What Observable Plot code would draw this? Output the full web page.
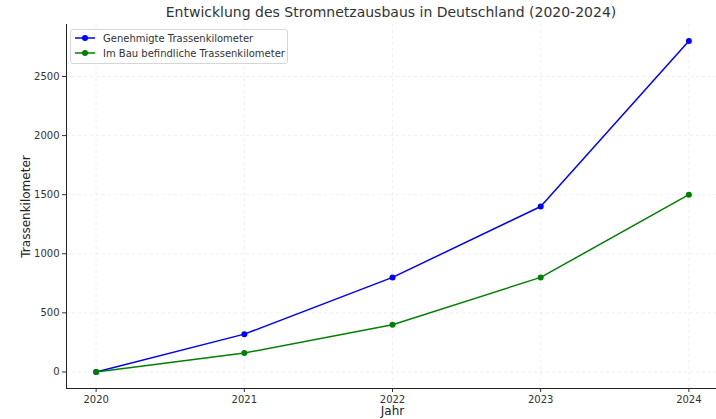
<!DOCTYPE html>
<html>
<head>
<meta charset="utf-8">
<script src="https://cdn.jsdelivr.net/npm/d3@7"></script>
<script src="https://cdn.jsdelivr.net/npm/@observablehq/plot@0.6"></script>
<style>
  html, body { margin: 0; padding: 0; background: #fff; }
  body { width: 716px; height: 419px; overflow: hidden; font-family: "DejaVu Sans", sans-serif; position: relative; }
  #title { position: absolute; left: 0; top: 4px; width: 782px; text-align: center; font-size: 14px; color: #333; }
  #chart { position: absolute; left: 0; top: 0; }
  #legend { position: absolute; left: 70px; top: 29px; width: 216px; height: 33px; border: 1px solid #d6d6d6; border-radius: 3px; background: rgba(255,255,255,0.85); font-size: 10px; color: #333; }
  .item { position: absolute; left: 3px; height: 14px; display: flex; align-items: center; }
  .item svg { margin-right: 7px; }
</style>
</head>
<body>
<div id="chart"></div>
<div id="title">Entwicklung des Stromnetzausbaus in Deutschland (2020-2024)</div>
<div id="legend"></div>
<script>
const years = [2020, 2021, 2022, 2023, 2024];
const genehmigt = [0, 320, 800, 1400, 2800];
const imBau = [0, 160, 400, 800, 1500];
const seriesNames = ["Genehmigte Trassenkilometer", "Im Bau befindliche Trassenkilometer"];
const seriesColors = ["#0000ff", "#008000"];
const yTicks = [0, 500, 1000, 1500, 2000, 2500];
const xDomain = [2019.8, 2024.2];
const yDomain = [-140, 2940];

const data = [];
years.forEach((y, i) => {
  data.push({year: y, value: genehmigt[i], series: seriesNames[0]});
  data.push({year: y, value: imBau[i], series: seriesNames[1]});
});

const chart = Plot.plot({
  width: 716,
  height: 419,
  marginTop: 24,
  marginBottom: 31,
  marginLeft: 66,
  marginRight: -2,
  style: {fontFamily: "DejaVu Sans, sans-serif", fontSize: "10px", color: "#333", background: "transparent"},
  x: {domain: xDomain},
  y: {domain: yDomain},
  color: {domain: seriesNames, range: seriesColors},
  marks: [
    Plot.gridX(years, {stroke: "#e6e6e6", strokeOpacity: 1, strokeDasharray: "3,3", strokeWidth: 0.6}),
    Plot.gridY(yTicks, {stroke: "#e6e6e6", strokeOpacity: 1, strokeDasharray: "3,3", strokeWidth: 0.6}),
    Plot.axisX(years, {tickFormat: d => String(d), tickSize: 4, tickPadding: 3, stroke: "#333", label: null, fontSize: 10}),
    Plot.axisY(yTicks, {tickFormat: d => String(d), tickSize: 4, tickPadding: 3, stroke: "#333", label: null, fontSize: 10}),
    Plot.ruleX([xDomain[0]], {stroke: "#222", strokeWidth: 1}),
    Plot.ruleY([yDomain[0]], {stroke: "#222", strokeWidth: 1}),
    Plot.line(data, {x: "year", y: "value", stroke: "series", z: "series", strokeWidth: 1.5}),
    Plot.dot(data, {x: "year", y: "value", fill: "series", r: 3}),
    Plot.text(["Jahr"], {frameAnchor: "bottom", dy: 26, fontSize: 12, fill: "#222", text: d => d}),
    Plot.text(["Trassenkilometer"], {frameAnchor: "left", textAnchor: "middle", dx: -40, rotate: -90, fontSize: 12, fill: "#222", text: d => d})
  ]
});
document.getElementById("chart").appendChild(chart);

const legend = document.getElementById("legend");
seriesNames.forEach((name, i) => {
  const div = document.createElement("div");
  div.className = "item";
  div.style.top = (1 + i * 15) + "px";
  div.innerHTML = `<svg width="22" height="10"><line x1="1" y1="5" x2="21" y2="5" stroke="${seriesColors[i]}" stroke-width="1.5"/><circle cx="11" cy="5" r="3" fill="${seriesColors[i]}"/></svg><span>${name}</span>`;
  legend.appendChild(div);
});
</script>
</body>
</html>
